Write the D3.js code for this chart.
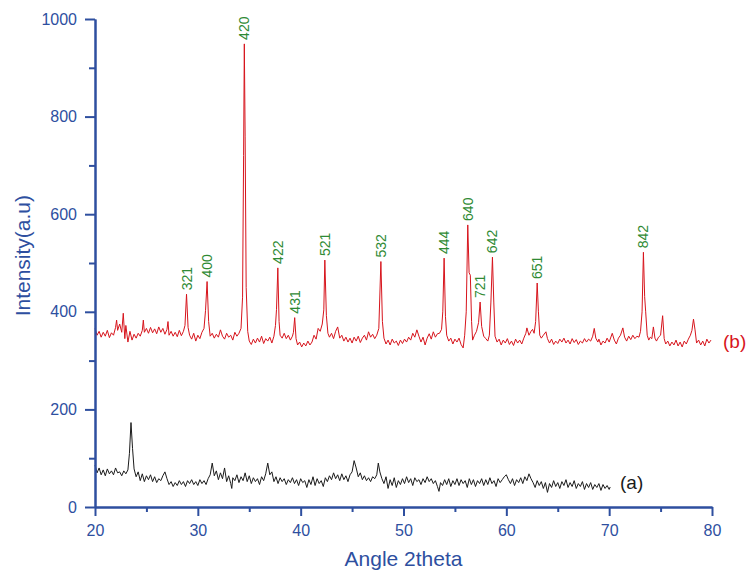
<!DOCTYPE html>
<html>
<head>
<meta charset="utf-8">
<script src="https://cdn.jsdelivr.net/npm/d3@7"></script>
<style>
  body { margin: 0; background: #fff; }
  svg { display: block; font-family: Arial, "Liberation Sans", sans-serif; }
</style>
</head>
<body>
<svg id="chart"></svg>
<script>
// XRD patterns: [2theta, intensity]
const patternB = [
  [20.0,366],[20.2,352],[20.4,360],[20.6,348],[20.8,358],[21.0,350],[21.2,362],[21.4,347],[21.6,357],[21.8,352],
  [22.0,368],[22.1,383],[22.2,362],[22.4,375],[22.6,358],[22.75,397],[22.9,345],[23.0,372],[23.2,338],[23.4,360],
  [23.6,342],[23.8,354],[24.0,346],[24.2,356],[24.4,350],[24.6,362],[24.7,383],[24.8,358],[25.0,366],[25.2,356],
  [25.4,368],[25.6,357],[25.8,365],[26.0,355],[26.2,369],[26.4,358],[26.6,366],[26.8,354],[27.0,364],[27.1,380],
  [27.2,352],[27.4,360],[27.6,350],[27.8,358],[28.0,349],[28.2,362],[28.4,351],[28.6,360],[28.75,372],[28.9,436],
  [29.05,368],[29.2,352],[29.4,344],[29.6,356],[29.8,340],[30.0,352],[30.2,345],[30.4,358],[30.6,366],[30.75,403],
  [30.9,462],[31.05,380],[31.2,350],[31.4,356],[31.6,346],[31.8,354],[32.0,348],[32.2,363],[32.4,350],[32.6,344],
  [32.8,356],[33.0,348],[33.2,352],[33.4,342],[33.6,358],[33.8,350],[34.0,356],[34.2,366],[34.35,430],[34.45,720],
  [34.52,949],[34.6,760],[34.7,450],[34.85,360],[35.0,340],[35.2,333],[35.4,344],[35.6,336],[35.8,346],[36.0,338],
  [36.2,350],[36.4,335],[36.6,345],[36.8,340],[37.0,348],[37.2,336],[37.4,350],[37.55,372],[37.65,405],[37.78,490],
  [37.9,380],[38.0,352],[38.2,346],[38.4,356],[38.6,345],[38.8,352],[39.0,342],[39.2,350],[39.3,358],[39.42,388],
  [39.55,345],[39.7,332],[39.9,338],[40.1,328],[40.3,336],[40.5,330],[40.7,340],[40.9,332],[41.1,338],[41.3,352],
  [41.5,344],[41.7,366],[41.9,360],[42.1,375],[42.25,404],[42.35,506],[42.5,392],[42.65,356],[42.8,348],[43.0,356],
  [43.2,345],[43.4,360],[43.6,369],[43.8,346],[44.0,352],[44.2,340],[44.4,348],[44.6,338],[44.8,346],[45.0,336],
  [45.2,348],[45.4,340],[45.6,350],[45.8,337],[46.0,346],[46.2,352],[46.4,342],[46.6,359],[46.8,348],[47.0,354],
  [47.2,345],[47.4,352],[47.6,366],[47.8,503],[47.95,380],[48.1,346],[48.3,334],[48.5,342],[48.7,332],[48.9,344],
  [49.1,336],[49.3,340],[49.5,331],[49.7,342],[49.9,335],[50.1,344],[50.3,338],[50.5,348],[50.7,342],[50.9,356],
  [51.1,348],[51.3,363],[51.5,350],[51.7,338],[51.9,348],[52.1,332],[52.3,346],[52.5,355],[52.7,344],[52.9,359],
  [53.1,348],[53.3,355],[53.5,356],[53.7,364],[53.82,400],[53.95,510],[54.08,390],[54.2,352],[54.4,340],[54.6,346],
  [54.8,334],[55.0,344],[55.2,338],[55.4,346],[55.6,333],[55.8,326],[55.95,352],[56.1,400],[56.25,578],[56.38,480],
  [56.5,475],[56.62,380],[56.72,342],[56.9,352],[57.1,360],[57.3,378],[57.45,420],[57.6,370],[57.8,350],[58.0,345],
  [58.2,340],[58.35,352],[58.5,420],[58.65,512],[58.78,420],[58.9,350],[59.1,338],[59.3,344],[59.5,332],[59.7,342],
  [59.9,336],[60.1,345],[60.3,333],[60.5,340],[60.7,331],[60.9,344],[61.1,336],[61.3,342],[61.5,334],[61.7,346],
  [61.9,356],[62.0,367],[62.2,352],[62.4,360],[62.55,364],[62.7,356],[62.85,380],[63.0,459],[63.12,400],[63.25,352],
  [63.4,346],[63.6,352],[63.85,359],[64.0,345],[64.2,336],[64.4,344],[64.6,333],[64.8,340],[65.0,335],[65.2,344],
  [65.4,338],[65.6,346],[65.8,336],[66.0,342],[66.2,334],[66.4,345],[66.6,337],[66.8,343],[67.0,333],[67.2,340],
  [67.4,336],[67.6,345],[67.8,338],[68.0,344],[68.2,340],[68.4,350],[68.55,366],[68.7,346],[68.9,338],[69.0,344],
  [69.2,332],[69.4,340],[69.6,336],[69.8,346],[70.0,338],[70.3,356],[70.5,342],[70.7,334],[70.9,346],[71.1,352],
  [71.33,367],[71.5,348],[71.7,340],[71.9,350],[72.1,343],[72.3,352],[72.5,345],[72.7,350],[72.9,348],[73.05,360],
  [73.2,400],[73.33,522],[73.45,431],[73.55,400],[73.7,352],[73.85,342],[74.0,348],[74.15,345],[74.3,369],[74.45,346],
  [74.6,340],[74.8,348],[75.0,352],[75.2,392],[75.35,345],[75.5,334],[75.7,340],[75.9,330],[76.1,338],[76.3,332],
  [76.5,342],[76.7,330],[76.9,338],[77.1,328],[77.3,340],[77.5,334],[77.7,344],[77.9,352],[78.05,362],[78.2,385],
  [78.35,363],[78.5,336],[78.7,342],[78.9,332],[79.1,340],[79.3,330],[79.5,344],[79.7,336],[79.9,342]
];

const patternA = [
  [20.0,86],[20.2,70],[20.4,80],[20.6,66],[20.8,76],[21.0,64],[21.2,78],[21.4,68],[21.6,74],[21.8,66],
  [22.0,80],[22.2,70],[22.4,72],[22.6,64],[22.8,74],[23.0,68],[23.2,76],[23.35,110],[23.5,173],[23.65,120],
  [23.8,78],[24.0,62],[24.2,72],[24.4,54],[24.6,68],[24.8,52],[25.0,64],[25.2,56],[25.4,66],[25.6,52],
  [25.8,62],[26.0,50],[26.2,58],[26.4,54],[26.6,64],[26.8,72],[27.0,58],[27.2,46],[27.4,52],[27.6,42],
  [27.8,50],[28.0,44],[28.2,54],[28.4,46],[28.6,52],[28.8,42],[29.0,54],[29.2,48],[29.4,56],[29.6,46],
  [29.8,52],[30.0,44],[30.2,56],[30.4,48],[30.6,54],[30.8,46],[31.0,58],[31.2,66],[31.4,90],[31.6,64],
  [31.8,74],[32.0,56],[32.2,70],[32.4,58],[32.6,80],[32.8,52],[33.0,64],[33.2,48],[33.3,38],[33.4,60],
  [33.6,54],[33.8,66],[34.0,50],[34.2,62],[34.4,54],[34.6,70],[34.8,52],[35.0,64],[35.2,48],[35.4,60],
  [35.6,52],[35.8,58],[36.0,46],[36.2,62],[36.4,54],[36.6,68],[36.8,90],[37.0,66],[37.2,72],[37.4,52],
  [37.6,62],[37.8,48],[38.0,60],[38.2,52],[38.4,58],[38.6,46],[38.8,56],[39.0,50],[39.2,60],[39.4,48],
  [39.6,56],[39.8,44],[40.0,58],[40.2,50],[40.4,54],[40.6,40],[40.8,56],[41.0,46],[41.2,62],[41.4,44],
  [41.6,58],[41.8,48],[42.0,54],[42.2,42],[42.4,60],[42.6,52],[42.8,64],[43.0,56],[43.2,70],[43.4,58],
  [43.6,66],[43.8,54],[44.0,68],[44.2,56],[44.4,64],[44.6,52],[44.8,66],[45.0,72],[45.2,95],[45.4,80],
  [45.6,62],[45.8,70],[46.0,56],[46.2,64],[46.4,54],[46.6,60],[46.8,52],[47.0,62],[47.2,58],[47.4,66],
  [47.55,90],[47.7,72],[47.9,58],[48.1,48],[48.3,62],[48.5,38],[48.7,56],[48.9,44],[49.1,60],[49.3,40],
  [49.5,54],[49.7,46],[49.9,58],[50.1,48],[50.3,62],[50.5,50],[50.7,58],[50.9,44],[51.1,60],[51.3,52],
  [51.5,56],[51.7,46],[51.9,58],[52.1,50],[52.3,62],[52.5,52],[52.7,58],[52.9,48],[53.1,54],[53.3,42],
  [53.45,32],[53.6,50],[53.8,44],[54.0,56],[54.2,46],[54.4,58],[54.6,42],[54.8,54],[55.0,46],[55.2,58],
  [55.4,44],[55.6,56],[55.8,48],[56.0,54],[56.2,40],[56.4,58],[56.6,46],[56.8,56],[57.0,42],[57.2,54],
  [57.4,48],[57.6,58],[57.8,44],[58.0,56],[58.2,46],[58.4,60],[58.6,48],[58.8,54],[59.0,42],[59.2,58],
  [59.4,50],[59.6,56],[59.8,62],[60.0,66],[60.2,56],[60.4,48],[60.6,58],[60.8,44],[61.0,56],[61.2,50],
  [61.4,60],[61.6,48],[61.8,62],[62.0,54],[62.2,68],[62.4,58],[62.6,50],[62.8,40],[63.0,54],[63.2,44],
  [63.4,52],[63.6,38],[63.8,50],[64.0,30],[64.2,48],[64.4,40],[64.6,54],[64.8,42],[65.0,50],[65.2,38],
  [65.4,52],[65.6,44],[65.8,56],[66.0,40],[66.2,50],[66.4,42],[66.6,54],[66.8,38],[67.0,48],[67.2,42],
  [67.4,52],[67.6,36],[67.8,48],[68.0,40],[68.2,50],[68.4,36],[68.6,46],[68.8,40],[69.0,48],[69.2,34],
  [69.4,46],[69.6,38],[69.8,44],[70.0,36],[70.1,41]
];

// Miller indices of the labelled reflections of (b): [hkl, 2theta, peak top]
const peakLabels = [
  ["321", 28.9, 436], ["400", 30.9, 462], ["420", 34.52, 949], ["422", 37.78, 490],
  ["431", 39.42, 388], ["521", 42.35, 506], ["532", 47.8, 503], ["444", 53.95, 510],
  ["640", 56.25, 578], ["721", 57.45, 420], ["642", 58.65, 512], ["651", 63.0, 459],
  ["842", 73.33, 522]
];

const xMajor = [20, 30, 40, 50, 60, 70, 80];
const xMinor = [25, 35, 45, 55, 65, 75];
const yMajor = [0, 200, 400, 600, 800, 1000];
const yMinor = [100, 300, 500, 700, 900];

const width = 749, height = 572;
const margin = { top: 19, right: 37, bottom: 65, left: 95 };
const axisColor = "#2e4f9f";
const labelGreen = "#2f8a34";

const svg = d3.select("#chart").attr("width", width).attr("height", height);

const x = d3.scaleLinear().domain([20, 80]).range([margin.left, width - margin.right]);
const y = d3.scaleLinear().domain([0, 1000]).range([height - margin.bottom, margin.top]);

// Traces
const line = d3.line().x(d => x(d[0])).y(d => y(d[1]));

svg.append("path")
  .datum(patternA)
  .attr("fill", "none")
  .attr("stroke", "#1b1b1b")
  .attr("stroke-width", 1)
  .attr("d", line);

svg.append("path")
  .datum(patternB)
  .attr("fill", "none")
  .attr("stroke", "#d7141c")
  .attr("stroke-width", 1)
  .attr("d", line);

// Axes
function styleAxis(g) {
  g.select(".domain").attr("stroke", axisColor).attr("stroke-width", 2);
  g.selectAll(".tick line").attr("stroke", axisColor).attr("stroke-width", 2);
  g.selectAll(".tick text").attr("fill", axisColor).style("font-size", "16px");
}

svg.append("g")
  .attr("transform", `translate(0,${y(0)})`)
  .call(d3.axisBottom(x).tickValues(xMinor).tickSize(5).tickSizeOuter(0).tickFormat(""))
  .call(styleAxis);

svg.append("g")
  .attr("transform", `translate(0,${y(0)})`)
  .call(d3.axisBottom(x).tickValues(xMajor).tickSize(9).tickSizeOuter(0).tickPadding(9).tickFormat(d3.format("d")))
  .call(styleAxis);

svg.append("g")
  .attr("transform", `translate(${x(20)},0)`)
  .call(d3.axisLeft(y).tickValues(yMinor).tickSize(6).tickSizeOuter(0).tickFormat(""))
  .call(styleAxis);

svg.append("g")
  .attr("transform", `translate(${x(20)},0)`)
  .call(d3.axisLeft(y).tickValues(yMajor).tickSize(10).tickSizeOuter(0).tickPadding(8).tickFormat(d3.format("d")))
  .call(styleAxis);

// Axis titles
svg.append("text")
  .attr("x", (x(20) + x(80)) / 2)
  .attr("y", 566)
  .attr("text-anchor", "middle")
  .attr("fill", axisColor)
  .style("font-size", "21px")
  .text("Angle 2theta");

svg.append("text")
  .attr("transform", `translate(30,${y(515)}) rotate(-90)`)
  .attr("text-anchor", "middle")
  .attr("fill", axisColor)
  .style("font-size", "21px")
  .text("Intensity(a.u)");

// Peak indices
svg.append("g")
  .selectAll("text")
  .data(peakLabels)
  .join("text")
  .attr("transform", d => `translate(${x(d[1]) + 5},${y(d[2]) - 4}) rotate(-90)`)
  .attr("fill", labelGreen)
  .style("font-size", "14px")
  .text(d => d[0]);

// Series tags
svg.append("text")
  .attr("x", 723)
  .attr("y", 348)
  .attr("fill", "#d7141c")
  .style("font-size", "19px")
  .text("(b)");

svg.append("text")
  .attr("x", 620)
  .attr("y", 489)
  .attr("fill", "#1b1b1b")
  .style("font-size", "19px")
  .text("(a)");
</script>
</body>
</html>
